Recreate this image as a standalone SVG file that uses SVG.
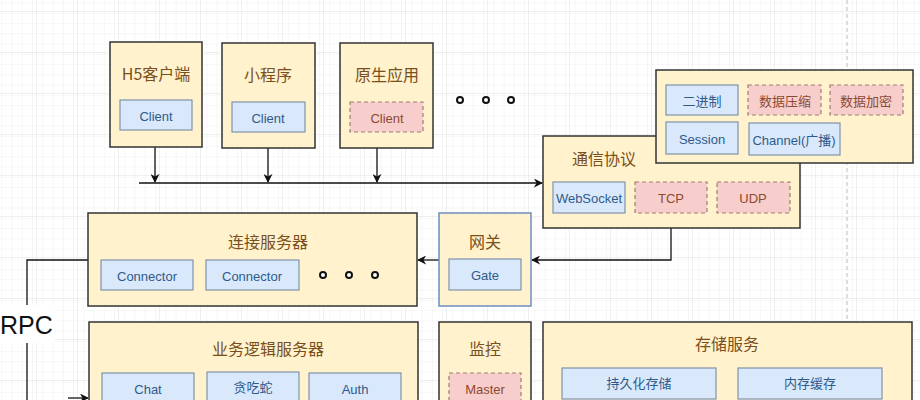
<svg xmlns="http://www.w3.org/2000/svg" width="920" height="400" viewBox="0 0 920 400">
<style>
.box{fill:#fff2cc;stroke:#333;stroke-width:1.5}
.gbox{fill:#fff2cc;stroke:#6c8ebf;stroke-width:1.5}
.blue{fill:#dae8fc;stroke:#7f93ab;stroke-width:1.2}
.pink{fill:#f8cecc;stroke:#9c7f72;stroke-width:1.2;stroke-dasharray:4 3}
.title{font-family:"Noto Sans CJK SC","Noto Sans",sans-serif;font-size:16px;fill:#7a4f1c;text-anchor:middle;dominant-baseline:central}
.bt{font-family:"Liberation Sans","Noto Sans CJK SC",sans-serif;font-size:13px;fill:#2f5b8a;text-anchor:middle;dominant-baseline:central}
.pt{font-family:"Liberation Sans","Noto Sans CJK SC",sans-serif;font-size:13px;fill:#8b4a32;text-anchor:middle;dominant-baseline:central}
.ln{fill:none;stroke:#111;stroke-width:1.3}
.dot{fill:#fff;stroke:#111;stroke-width:2}
</style>
<defs>
<pattern id="minor" width="10.25" height="10.25" patternUnits="userSpaceOnUse" x="-4" y="1.75">
<path d="M10.25 0V10.25M0 10.25H10.25" fill="none" stroke="#efefef" stroke-width="1"/>
</pattern>
<pattern id="major" width="41" height="41" patternUnits="userSpaceOnUse" x="-4" y="12">
<rect width="41" height="41" fill="url(#minor)"/>
<path d="M41 0V41M0 41H41" fill="none" stroke="#e0e0e0" stroke-width="1"/>
</pattern>
<marker id="arr" viewBox="0 0 10 10" refX="9" refY="5" markerWidth="9" markerHeight="9" markerUnits="userSpaceOnUse" orient="auto">
<path d="M0,0 L10,5 L0,10 L3,5 z" fill="#111"/>
</marker>
</defs>
<rect width="920" height="400" fill="#fff"/>
<rect width="920" height="400" fill="url(#major)"/>
<line x1="847" y1="0" x2="847" y2="320" stroke="#bbb" stroke-width="1" stroke-dasharray="4 3"/>

<g id="connectors">
<path class="ln" d="M155,147V182" marker-end="url(#arr)"/>
<path class="ln" d="M268,148V182" marker-end="url(#arr)"/>
<path class="ln" d="M377,148V182" marker-end="url(#arr)"/>
<path class="ln" d="M139,183H542" marker-end="url(#arr)"/>
<path class="ln" d="M671,228V260H532" marker-end="url(#arr)"/>
<path class="ln" d="M439,260H418" marker-end="url(#arr)"/>
<path class="ln" d="M88,260H27V400"/>
<path class="ln" d="M68,398H88" marker-end="url(#arr)"/>
<rect x="0" y="305" width="55" height="38" fill="#fff"/>
<text x="0" y="325" font-family="Liberation Sans, Arial, sans-serif" font-size="25" fill="#111" dominant-baseline="central">RPC</text>
</g>

<g id="h5">
<rect class="box" x="110" y="42" width="92" height="105"/>
<text class="title" x="156" y="73">H5客户端</text>
<rect class="blue" x="120" y="100" width="72" height="30"/>
<text class="bt" x="156" y="116">Client</text>
</g>
<g id="miniprogram">
<rect class="box" x="222" y="43" width="93" height="105"/>
<text class="title" x="268" y="74">小程序</text>
<rect class="blue" x="232" y="102" width="73" height="30"/>
<text class="bt" x="268" y="118">Client</text>
</g>
<g id="native">
<rect class="box" x="340" y="43" width="93" height="105"/>
<text class="title" x="387" y="74">原生应用</text>
<rect class="pink" x="350" y="102" width="73" height="30"/>
<text class="pt" x="387" y="118">Client</text>
</g>
<g id="dots-top">
<circle class="dot" cx="460" cy="100" r="3"/>
<circle class="dot" cx="486" cy="100" r="3"/>
<circle class="dot" cx="511" cy="100" r="3"/>
</g>

<g id="protocol">
<rect class="box" x="543" y="136" width="257" height="92"/>
<text class="title" x="604" y="158">通信协议</text>
<rect class="blue" x="553" y="182" width="72" height="31"/>
<text class="bt" x="589" y="198">WebSocket</text>
<rect class="pink" x="635" y="182" width="72" height="31"/>
<text class="pt" x="671" y="198">TCP</text>
<rect class="pink" x="717" y="182" width="73" height="31"/>
<text class="pt" x="753" y="198">UDP</text>
</g>
<g id="features">
<rect class="box" x="656" y="70" width="257" height="93"/>
<rect class="blue" x="666" y="85" width="72" height="30"/>
<text class="bt" x="702" y="101">二进制</text>
<rect class="pink" x="748" y="85" width="73" height="30"/>
<text class="pt" x="785" y="101">数据压缩</text>
<rect class="pink" x="830" y="85" width="73" height="30"/>
<text class="pt" x="866" y="101">数据加密</text>
<rect class="blue" x="666" y="122" width="72" height="32"/>
<text class="bt" x="702" y="139">Session</text>
<rect class="blue" x="749" y="123" width="91" height="32"/>
<text class="bt" x="794" y="140">Channel(广播)</text>
</g>

<g id="gateway">
<rect class="gbox" x="439" y="213" width="92" height="93"/>
<text class="title" x="485" y="241">网关</text>
<rect class="blue" x="449" y="259" width="72" height="31"/>
<text class="bt" x="485" y="275">Gate</text>
</g>
<g id="connector-server">
<rect class="box" x="88" y="213" width="329" height="93"/>
<text class="title" x="268" y="241">连接服务器</text>
<rect class="blue" x="101" y="260" width="92" height="30"/>
<text class="bt" x="147" y="276">Connector</text>
<rect class="blue" x="206" y="260" width="93" height="30"/>
<text class="bt" x="252" y="276">Connector</text>
<circle class="dot" cx="323" cy="275" r="3"/>
<circle class="dot" cx="349" cy="275" r="3"/>
<circle class="dot" cx="375" cy="275" r="3"/>
</g>

<g id="logic-server">
<rect class="box" x="89" y="322" width="329" height="100"/>
<text class="title" x="268" y="348">业务逻辑服务器</text>
<rect class="blue" x="102" y="373" width="92" height="40"/>
<text class="bt" x="148" y="389">Chat</text>
<rect class="blue" x="207" y="372" width="92" height="40"/>
<text class="bt" x="253" y="387">贪吃蛇</text>
<rect class="blue" x="309" y="373" width="92" height="40"/>
<text class="bt" x="355" y="389">Auth</text>
</g>
<g id="monitor">
<rect class="box" x="439" y="322" width="92" height="100"/>
<text class="title" x="485" y="348">监控</text>
<rect class="pink" x="449" y="373" width="72" height="40"/>
<text class="pt" x="485" y="389">Master</text>
</g>
<g id="storage">
<rect class="box" x="543" y="322" width="369" height="100"/>
<text class="title" x="727" y="343">存储服务</text>
<rect class="blue" x="562" y="368" width="154" height="31"/>
<text class="bt" x="639" y="383">持久化存储</text>
<rect class="blue" x="738" y="368" width="144" height="31"/>
<text class="bt" x="810" y="383">内存缓存</text>
</g>
</svg>
